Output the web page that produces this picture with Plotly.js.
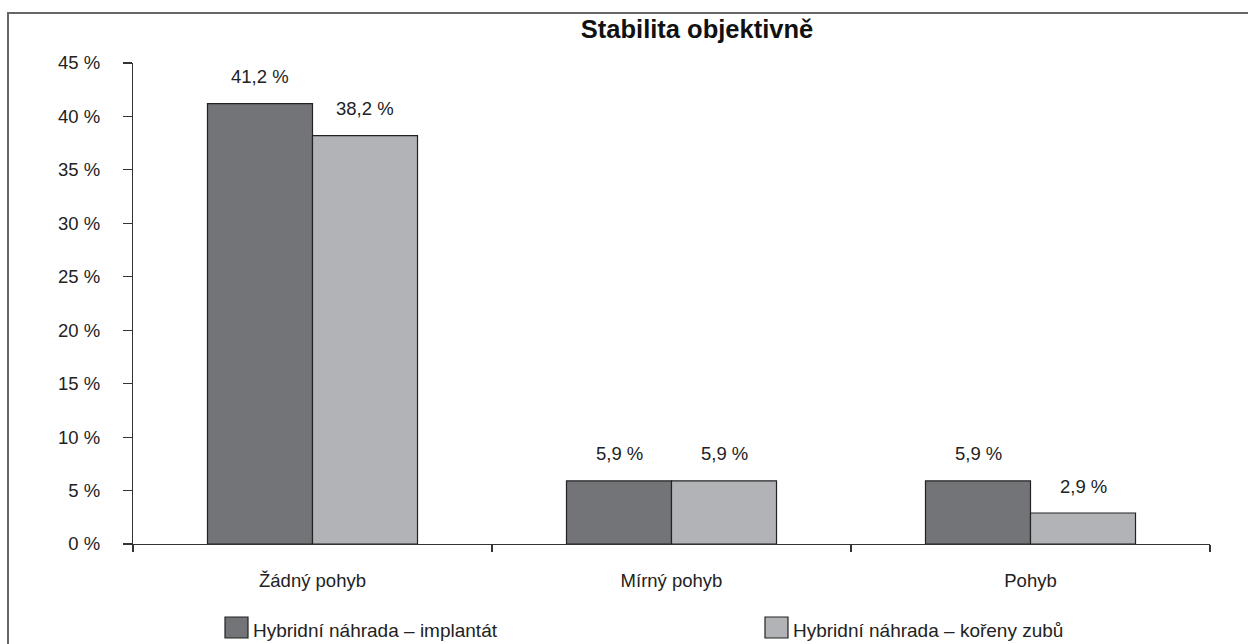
<!DOCTYPE html>
<html>
<head>
<meta charset="utf-8">
<script src="https://cdn.plot.ly/plotly-3.0.1.min.js"></script>
<style>
html,body{margin:0;padding:0;background:#fff;overflow:hidden;}
#wrap{position:relative;width:1248px;height:644px;}
#chart{width:1248px;height:644px;}
#frame{position:absolute;left:7px;top:12px;width:1300px;height:700px;border-left:2px solid #666;border-top:2px solid #666;pointer-events:none;}
</style>
</head>
<body>
<div id="wrap"><div id="chart"></div><div id="frame"></div></div>
<script>
const categories = ["Žádný pohyb", "Mírný pohyb", "Pohyb"];
const seriesNames = ["Hybridní náhrada – implantát", "Hybridní náhrada – kořeny zubů"];
const implantat = [41.2, 5.9, 5.9];
const korenyZubu = [38.2, 5.9, 2.9];
const valueLabels = [["41,2 %", "5,9 %", "5,9 %"], ["38,2 %", "5,9 %", "2,9 %"]];
const yTickSuffix = " %";
const titleText = "Stabilita objektivně";

const colors = ["#737478", "#b2b3b7"];
const W = 1248, H = 644;
const M = {l: 133, r: 38, t: 63, b: 100};
const plotW = W - M.l - M.r, plotH = H - M.t - M.b;
const px = x => (x - M.l) / plotW;
const py = y => (H - M.b - y) / plotH;
const bargap = 0.415;
const font = "Liberation Sans, Arial, Helvetica, sans-serif";
const fs = 18.5;

const series = [implantat, korenyZubu];
const traces = series.map((vals, i) => ({
  type: "bar",
  name: seriesNames[i],
  x: categories,
  y: vals,
  marker: {color: colors[i], line: {color: "#222", width: 1.2}},
  showlegend: false,
  hoverinfo: "x+y"
}));

const annotations = [];
const half = (1 - bargap) / 4;
series.forEach((vals, s) => {
  vals.forEach((v, i) => {
    annotations.push({
      x: i + (s === 0 ? -half : half), y: v, xref: "x", yref: "y",
      text: valueLabels[s][i], showarrow: false,
      yanchor: "middle", yshift: 27,
      font: {family: font, size: fs, color: "#222"}
    });
  });
});

// custom legend
const legendX = [225, 765];
const shapes = [];
seriesNames.forEach((n, i) => {
  shapes.push({
    type: "rect", xref: "paper", yref: "paper",
    x0: px(legendX[i]), x1: px(legendX[i] + 23),
    y0: py(638), y1: py(617),
    fillcolor: colors[i], line: {color: "#222", width: 1.2}
  });
  annotations.push({
    xref: "paper", yref: "paper", x: px(legendX[i] + 26), y: py(643),
    xanchor: "left", yanchor: "bottom", showarrow: false,
    text: n, font: {family: font, size: fs + 0.5, color: "#222"}
  });
});

const layout = {
  width: W, height: H,
  margin: M,
  paper_bgcolor: "#fff", plot_bgcolor: "#fff",
  font: {family: font, size: fs, color: "#222"},
  title: {
    text: "<b>" + titleText + "</b>",
    x: px(697), xref: "paper", xanchor: "center",
    y: 1 - 29 / H, yref: "container", yanchor: "middle",
    font: {family: font, size: 25.5, color: "#111"}
  },
  barmode: "group", bargap: bargap, bargroupgap: 0,
  xaxis: {
    type: "category",
    showline: true, linecolor: "#333", linewidth: 1.2,
    ticks: "outside", tickson: "boundaries", ticklen: 7, tickcolor: "#333", tickwidth: 1.2,
    ticklabelstandoff: 20,
    tickfont: {family: font, size: fs, color: "#222"},
    showgrid: false, zeroline: false
  },
  yaxis: {
    range: [0, 45], dtick: 5, tick0: 0,
    ticksuffix: yTickSuffix,
    showline: true, linecolor: "#333", linewidth: 1.2,
    ticks: "outside", ticklen: 9, tickcolor: "#333", tickwidth: 1.2,
    ticklabelstandoff: 19,
    tickfont: {family: font, size: fs, color: "#222"},
    showgrid: false, zeroline: false
  },
  annotations: annotations,
  shapes: shapes
};

Plotly.newPlot("chart", traces, layout, {displayModeBar: false, staticPlot: true});
</script>
</body>
</html>
